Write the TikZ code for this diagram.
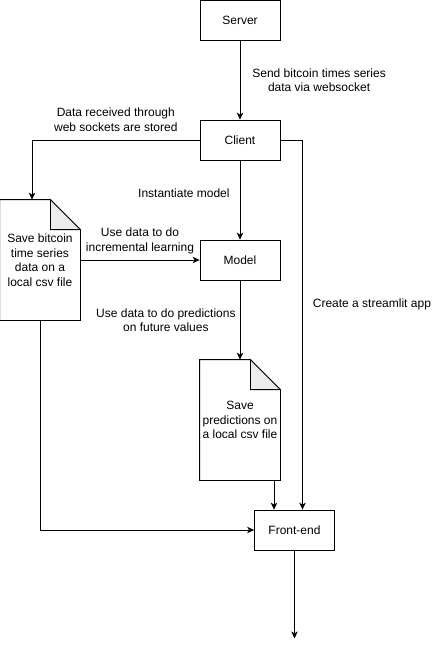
\documentclass[tikz,border=0pt]{standalone}
\usepackage{fontspec}
\setmainfont{Liberation Sans}
\usetikzlibrary{arrows.meta}

\begin{document}
\begin{tikzpicture}[->, >={Stealth[length=7pt,width=6.5pt,inset=2pt]}, line width=0.8pt,
    font=\fontsize{12}{14.5}\selectfont, node distance=120pt,
    box/.style={draw, minimum width=80pt, minimum height=40pt, inner sep=0pt},
    doc/.style={minimum width=80pt, minimum height=120pt, inner sep=0pt, align=center},
    lbl/.style={align=center, inner sep=2pt}]
          \useasboundingbox (0,0) rectangle (441pt,-649pt);

          \node[box] (1) at (240pt,-20pt) {Server};
          \node[box] (2) [below of=1] {Client};
          \node[box] (3) [below of=2] {Model};
          \node[doc] (4) [node distance=200pt, left of=3] {Save bitcoin\\time series\\data on a\\local csv file};
          \node[doc] (5) [node distance=160pt, below of=3] {Save\\predictions on\\a local csv file};
          \node[box] (6) [node distance=110pt, below of=5, xshift=54.5pt] {Front-end};
          \coordinate (7) at ([xshift=-20.5pt]6.north);
          \coordinate (8) at ([yshift=-88pt]6.south);

          % document outlines with folded corner
          \foreach \d in {4,5} {
            \draw[-] (\d.north west) -- ([xshift=-30pt]\d.north east) -- ([yshift=-30pt]\d.north east)
              -- (\d.south east) -- (\d.south west) -- cycle;
            \draw[-, fill=gray!15] ([xshift=-30pt]\d.north east) -- ([xshift=-30pt,yshift=-30pt]\d.north east)
              -- ([yshift=-30pt]\d.north east) -- cycle;
          }

		  \path
			(1) edge node[lbl, right=10pt] {Send bitcoin times series\\data via websocket} (2)
			(2) edge node[lbl, pos=0.41, left=8pt] {Instantiate model} (3)
			(4) edge node[lbl, above=4pt] {Use data to do\\incremental learning} (3)
			(3) edge node[lbl, left=2pt] {Use data to do predictions\\on future values} (5)
			(7 |- 5.south) edge (7)
			(6) edge (8);

          \draw (2.west) -| node[lbl, pos=0.25, above=6pt] {Data received through\\web sockets are stored} ([xshift=-8pt]4.north);
          \draw (2.east) -| node[lbl, pos=0.723, right=8pt] {Create a streamlit app} ([xshift=8pt]6.north);
          \draw (4.south) |- (6.west);

        \end{tikzpicture}
\end{document}
